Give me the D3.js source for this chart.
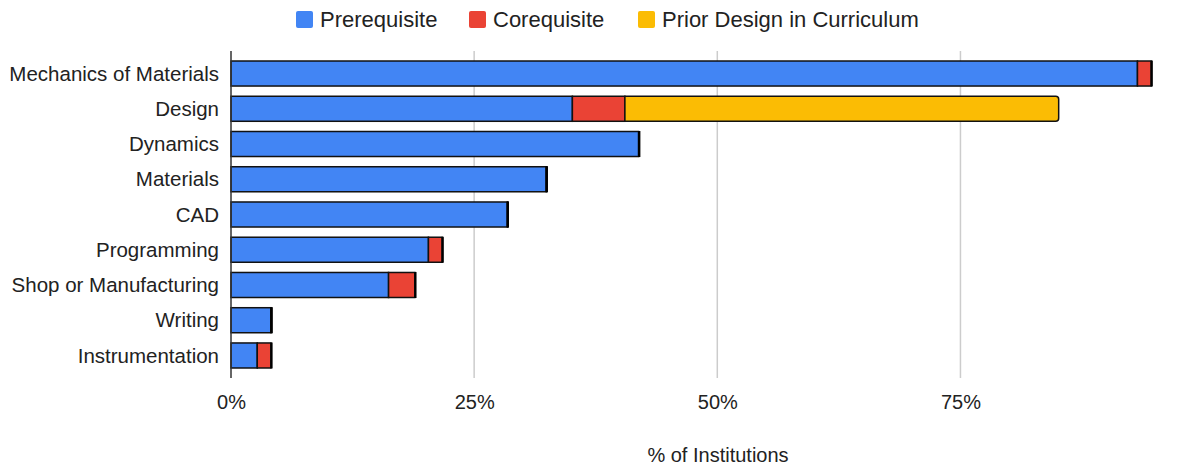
<!DOCTYPE html>
<html>
<head>
<meta charset="utf-8">
<script src="https://cdn.jsdelivr.net/npm/d3@7"></script>
<style>
  html, body { margin: 0; padding: 0; background: #fff; }
  svg { display: block; font-family: "Liberation Sans", Arial, sans-serif; }
</style>
</head>
<body>
<svg id="chart" width="1198" height="465"></svg>
<script>
// Share of institutions (%) for each course relationship
const categories = ["Mechanics of Materials", "Design", "Dynamics", "Materials", "CAD",
                    "Programming", "Shop or Manufacturing", "Writing", "Instrumentation"];
const prerequisite = [93.2, 35.1, 41.9, 32.4, 28.4, 20.3, 16.2, 4.1, 2.7];
const corequisite  = [1.4, 5.4, 0, 0, 0, 1.4, 2.7, 0, 1.4];
const priorDesign  = [0, 44.6, 0, 0, 0, 0, 0, 0, 0];
const seriesNames  = ["Prerequisite", "Corequisite", "Prior Design in Curriculum"];
const seriesColors = ["#4285F4", "#EA4335", "#FBBC04"];
const tickValues   = [0, 25, 50, 75];
const axisTitle    = "% of Institutions";

const rows = categories.map((c, i) => ({
  category: c,
  Prerequisite: prerequisite[i],
  Corequisite: corequisite[i],
  "Prior Design in Curriculum": priorDesign[i]
}));

const FONT = '"Liberation Sans", Arial, sans-serif';
const svg = d3.select("#chart");
const plotTop = 51, plotBottom = 378;

const x = d3.scaleLinear().domain([0, 100]).range([231, 1203.6]);
const y = d3.scaleBand().domain(categories).range([55.9, 373.1]).paddingInner(0.29).paddingOuter(0.145);
const color = d3.scaleOrdinal().domain(seriesNames).range(seriesColors);

// Vertical gridlines
svg.append("g").selectAll("line")
  .data(tickValues.filter(v => v !== 0))
  .join("line")
  .attr("x1", d => x(d)).attr("x2", d => x(d))
  .attr("y1", plotTop).attr("y2", plotBottom)
  .attr("stroke", "#cccccc").attr("stroke-width", 1.5);

// X axis tick labels
const xAxis = d3.axisBottom(x).tickValues(tickValues).tickFormat(d => d + "%").tickSize(0).tickPadding(0);
const gx = svg.append("g").attr("transform", `translate(0, ${plotBottom + 31})`).call(xAxis);
gx.select(".domain").remove();
gx.selectAll("text").attr("font-size", 20).attr("fill", "#222").attr("dy", 0)
  .attr("font-family", FONT);

// Category labels
const yAxis = d3.axisLeft(y).tickSize(0).tickPadding(0);
const gy = svg.append("g").attr("transform", "translate(219, 0)").call(yAxis);
gy.select(".domain").remove();
gy.selectAll("text").attr("font-size", 20.5).attr("fill", "#222").attr("dy", "0.35em")
  .attr("font-family", FONT);

// Stacked bars
const stack = d3.stack().keys(seriesNames)(rows);
const layers = svg.append("g").selectAll("g")
  .data(stack).join("g")
  .attr("fill", d => color(d.key));

layers.each(function(layer, li) {
  const g = d3.select(this);
  layer.forEach(seg => {
    const x0 = x(seg[0]), x1 = x(seg[1]);
    const yy = y(seg.data.category), h = y.bandwidth();
    const w = x1 - x0;
    if (w <= 0.01) {
      // zero-valued segment: a thin black cap at the end of the bar
      g.append("rect")
        .attr("x", x0).attr("y", yy).attr("width", 1.2).attr("height", h)
        .attr("fill", "#000").attr("stroke", "#000").attr("stroke-width", 1);
    } else if (li === seriesNames.length - 1) {
      const r = 3;
      const p = `M${x0},${yy} H${x1 - r} Q${x1},${yy} ${x1},${yy + r} V${yy + h - r} Q${x1},${yy + h} ${x1 - r},${yy + h} H${x0} Z`;
      g.append("path").attr("d", p).attr("stroke", "#111").attr("stroke-width", 1.5);
    } else {
      g.append("rect")
        .attr("x", x0).attr("y", yy).attr("width", w).attr("height", h)
        .attr("stroke", "#111").attr("stroke-width", 1.5);
    }
  });
});

// Baseline at 0%
svg.append("line")
  .attr("x1", x(0)).attr("x2", x(0))
  .attr("y1", plotTop).attr("y2", plotBottom)
  .attr("stroke", "#333").attr("stroke-width", 1.5);

// Legend
const legendItems = [
  { name: seriesNames[0], x: 296 },
  { name: seriesNames[1], x: 469 },
  { name: seriesNames[2], x: 638 }
];
const lg = svg.append("g").selectAll("g").data(legendItems).join("g")
  .attr("transform", d => `translate(${d.x}, 11)`);
lg.append("rect").attr("width", 17).attr("height", 17).attr("rx", 2)
  .attr("fill", d => color(d.name));
lg.append("text").attr("x", 24).attr("y", 16).attr("font-size", 22).attr("fill", "#222")
  .attr("font-family", FONT)
  .text(d => d.name);

// Axis title
svg.append("text")
  .attr("x", 718).attr("y", 462).attr("text-anchor", "middle")
  .attr("font-size", 20).attr("fill", "#222")
  .attr("font-family", FONT)
  .text(axisTitle);
</script>
</body>
</html>
